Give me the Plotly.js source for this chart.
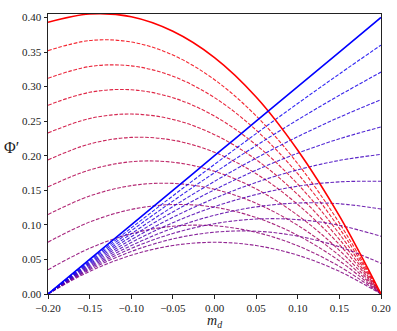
<!DOCTYPE html>
<html>
<head>
<meta charset="utf-8">
<script src="https://cdn.plot.ly/plotly-3.0.1.min.js"></script>
<style>
  body { margin: 0; background: #fff; }
  #chart { width: 397px; height: 331px; }
</style>
</head>
<body>
<div id="chart"></div>
<script>
// m_d sample points shared by every curve
const mdValues = [-0.2, -0.15, -0.1, -0.05, 0, 0.05, 0.1, 0.15, 0.2];

// mixing parameter of each curve (0 = red, 1 = blue)
const tValues = [0, 0.05, 0.1, 0.15, 0.2, 0.25, 0.3, 0.35, 0.4, 0.45, 0.5,
                 0.55, 0.6, 0.65, 0.7, 0.75, 0.8, 0.85, 0.9, 0.95, 1];

// Phi', one array per curve
const phi00 = [0.393, 0.405, 0.401, 0.380, 0.342, 0.285, 0.208, 0.113, 0];
const phi05 = [0.352, 0.3666, 0.3645, 0.3456, 0.310, 0.2576, 0.1885, 0.1026, 0];
const phi10 = [0.312, 0.329, 0.330, 0.315, 0.284, 0.237, 0.174, 0.095, 0];
const phi15 = [0.273, 0.2917, 0.2954, 0.2839, 0.2573, 0.2156, 0.1589, 0.0870, 0];
const phi20 = [0.233, 0.2538, 0.2603, 0.2525, 0.2305, 0.1943, 0.1438, 0.0790, 0];
const phi25 = [0.194, 0.217, 0.2265, 0.2225, 0.205, 0.174, 0.1295, 0.0715, 0];
const phi30 = [0.155, 0.1794, 0.1913, 0.1906, 0.1775, 0.1519, 0.1138, 0.0632, 0];
const phi35 = [0.115, 0.1417, 0.1568, 0.160, 0.1515, 0.1312, 0.0993, 0.0555, 0];
const phi40 = [0.075, 0.1041, 0.1223, 0.1294, 0.1255, 0.1106, 0.0848, 0.0479, 0];
const phi45 = [0.035, 0.0661, 0.0872, 0.098, 0.0987, 0.0892, 0.0697, 0.0399, 0];
const phi50 = [0, 0.0327, 0.0561, 0.0701, 0.0748, 0.0701, 0.0561, 0.0327, 0];
const phi55 = [0, 0.035, 0.0615, 0.0797, 0.0894, 0.0908, 0.0837, 0.0683, 0.0444];
const phi60 = [0, 0.0367, 0.0659, 0.0876, 0.1017, 0.1084, 0.1076, 0.0993, 0.0834];
const phi65 = [0, 0.0383, 0.0701, 0.0952, 0.1139, 0.126, 0.1316, 0.1305, 0.123];
const phi70 = [0, 0.04, 0.0744, 0.1031, 0.1263, 0.1439, 0.1559, 0.1622, 0.163];
const phi75 = [0, 0.0417, 0.0786, 0.1109, 0.1384, 0.1614, 0.1796, 0.1932, 0.202];
const phi80 = [0, 0.0433, 0.0829, 0.1187, 0.1508, 0.1791, 0.2037, 0.2245, 0.2416];
const phi85 = [0, 0.0449, 0.0871, 0.1264, 0.1629, 0.1966, 0.2276, 0.2557, 0.281];
const phi90 = [0, 0.0466, 0.0915, 0.1344, 0.1755, 0.2146, 0.252, 0.2874, 0.321];
const phi95 = [0, 0.0483, 0.0956, 0.142, 0.1875, 0.232, 0.2756, 0.3183, 0.36];
const phi100 = [0, 0.05, 0.1, 0.15, 0.2, 0.25, 0.3, 0.35, 0.4];

const curves = [phi00, phi05, phi10, phi15, phi20, phi25, phi30, phi35, phi40, phi45, phi50,
                phi55, phi60, phi65, phi70, phi75, phi80, phi85, phi90, phi95, phi100];

const xTicks = [-0.2, -0.15, -0.1, -0.05, 0, 0.05, 0.1, 0.15, 0.2];
const yTicks = [0, 0.05, 0.1, 0.15, 0.2, 0.25, 0.3, 0.35, 0.4];

function mix(t) {
  return "rgb(" + Math.round(255 * (1 - t)) + ",0," + Math.round(255 * t) + ")";
}

const dashed = [];
const solid = [];
curves.forEach((ys, i) => {
  const t = tValues[i];
  const ends = (t === 0 || t === 1);
  const tr = {
    x: mdValues,
    y: ys,
    mode: "lines",
    type: "scatter",
    hoverinfo: "skip",
    opacity: ends ? 1 : 0.85,
    line: {
      color: mix(t),
      width: ends ? 1.6 : 1.1,
      dash: ends ? "solid" : "3.7px,1.6px",
      shape: "spline",
      smoothing: 1
    }
  };
  (ends ? solid : dashed).push(tr);
});

const serif = "Liberation Serif, DejaVu Serif, serif";

Plotly.newPlot("chart", dashed.concat(solid), {
  width: 397,
  height: 331,
  margin: { l: 48, r: 16, t: 14, b: 37 },
  showlegend: false,
  paper_bgcolor: "#fff",
  plot_bgcolor: "#fff",
  font: { family: serif, size: 11, color: "#222" },
  xaxis: {
    range: [-0.2, 0.2],
    tickvals: xTicks,
    tickformat: ".2f",
    ticks: "outside",
    ticklen: 3.5,
    tickcolor: "#222",
    showgrid: false,
    zeroline: false,
    showline: true,
    linecolor: "#222",
    linewidth: 1,
    mirror: true
  },
  yaxis: {
    range: [0, 0.405],
    tickvals: yTicks,
    tickformat: ".2f",
    ticks: "outside",
    ticklen: 3.5,
    tickcolor: "#222",
    showgrid: false,
    zeroline: false,
    showline: true,
    linecolor: "#222",
    linewidth: 1,
    mirror: true
  },
  annotations: [
    {
      text: "<i>m</i><sub><i>d</i></sub>",
      xref: "paper", yref: "paper",
      x: 0.5, y: -0.066,
      xanchor: "center", yanchor: "top",
      borderpad: 0,
      showarrow: false,
      font: { family: serif, size: 14, color: "#222" }
    },
    {
      text: "Φ′",
      xref: "paper", yref: "paper",
      x: -0.11, y: 0.525,
      xanchor: "center", yanchor: "middle",
      showarrow: false,
      font: { family: serif, size: 16, color: "#222" }
    }
  ]
}, { displayModeBar: false, staticPlot: true });
</script>
</body>
</html>
